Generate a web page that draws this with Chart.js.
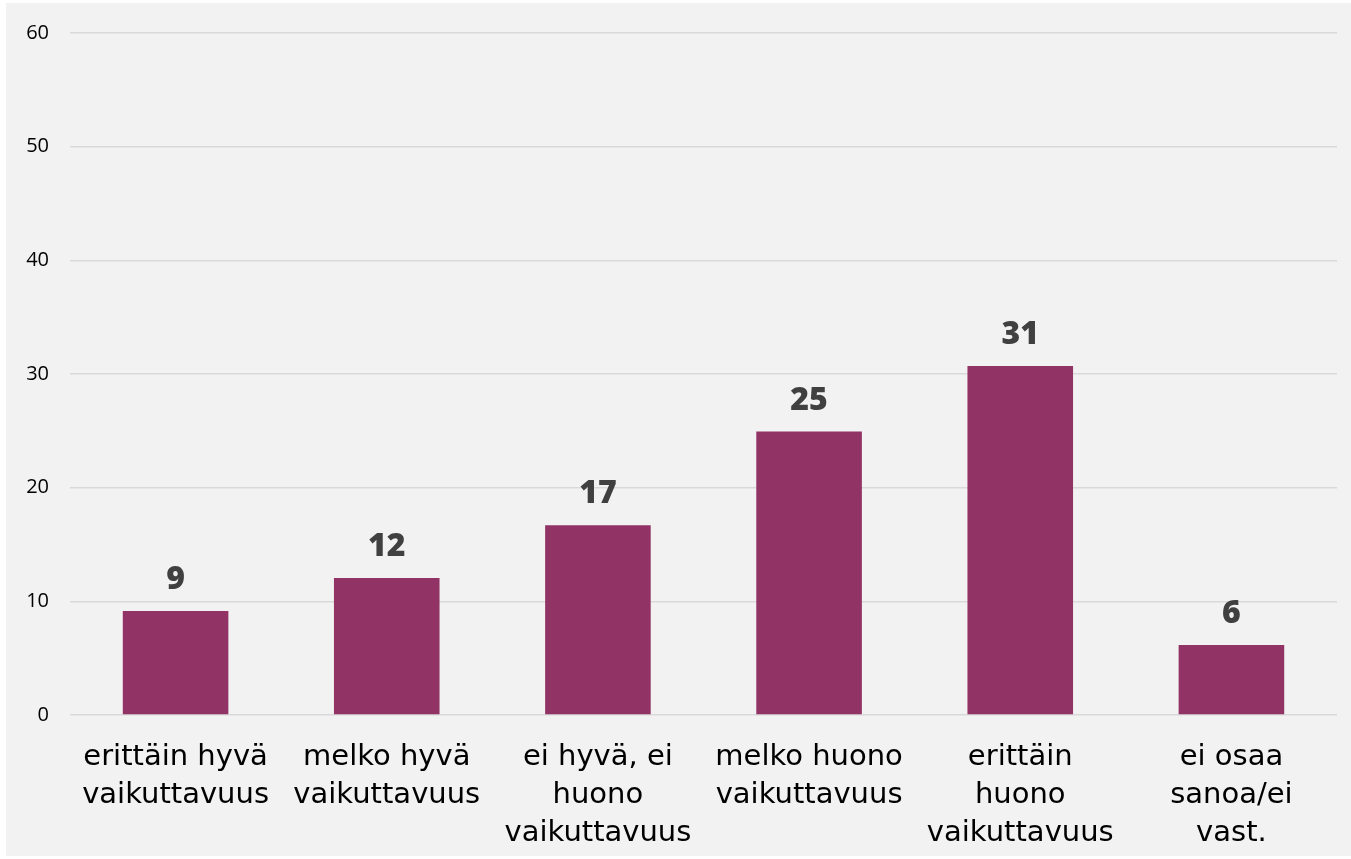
<!DOCTYPE html>
<html>
<head>
<meta charset="utf-8">
<script src="https://cdn.jsdelivr.net/npm/chart.js@4/dist/chart.umd.min.js"></script>
<style>
html,body{margin:0;padding:0;background:#ffffff;}
#wrap{position:absolute;left:6px;top:3px;width:1345px;height:853px;background:#f2f2f2;}
canvas{display:block;}
</style>
</head>
<body>
<div id="wrap"><canvas id="c" width="1345" height="853"></canvas></div>
<script>
const categories = [
  ["erittäin hyvä", "vaikuttavuus"],
  ["melko hyvä", "vaikuttavuus"],
  ["ei hyvä, ei", "huono", "vaikuttavuus"],
  ["melko huono", "vaikuttavuus"],
  ["erittäin", "huono", "vaikuttavuus"],
  ["ei osaa", "sanoa/ei", "vast."]
];
const values = [9.15, 12.05, 16.7, 24.95, 30.7, 6.15];
const valueLabels = ["9", "12", "17", "25", "31", "6"];
const yTicks = [0, 10, 20, 30, 40, 50, 60];

const labelPlugin = {
  id: 'valLabels',
  afterDatasetsDraw(chart) {
    const ctx = chart.ctx;
    const meta = chart.getDatasetMeta(0);
    ctx.save();
    ctx.font = "800 32px 'Open Sans', sans-serif";
    ctx.fillStyle = '#404040';
    ctx.textAlign = 'center';
    ctx.textBaseline = 'bottom';
    meta.data.forEach((bar, i) => {
      ctx.fillText(valueLabels[i], bar.x, bar.y - 15);
    });
    ctx.restore();
  }
};

new Chart(document.getElementById('c'), {
  type: 'bar',
  data: {
    labels: categories,
    datasets: [{
      data: values,
      backgroundColor: '#923366',
      barPercentage: 0.5,
      categoryPercentage: 1.0
    }]
  },
  options: {
    responsive: false,
    animation: false,
    events: [],
    layout: { padding: { top: 30, right: 14, bottom: 0, left: 0 } },
    plugins: { legend: { display: false }, tooltip: { enabled: false } },
    scales: {
      x: {
        grid: { display: false },
        border: { display: false },
        ticks: {
          color: '#000000',
          font: { family: "'DejaVu Sans', sans-serif", size: 29, lineHeight: 1.3 },
          padding: 16,
          maxRotation: 0,
          autoSkip: false
        },
        afterFit(s) { s.height = 141; s.paddingTop = 0; }
      },
      y: {
        min: 0, max: 60,
        afterBuildTicks(s) { s.ticks = yTicks.map(v => ({ value: v })); },
        grid: { color: '#d9d9d9', lineWidth: 1.5, drawTicks: false },
        border: { display: false },
        ticks: {
          color: '#000000',
          font: { family: "'Open Sans', sans-serif", size: 20, lineHeight: 1 },
          padding: 21
        },
        afterFit(s) { s.width = 64; s.paddingTop = 9; }
      }
    }
  },
  plugins: [labelPlugin]
});
</script>
</body>
</html>
